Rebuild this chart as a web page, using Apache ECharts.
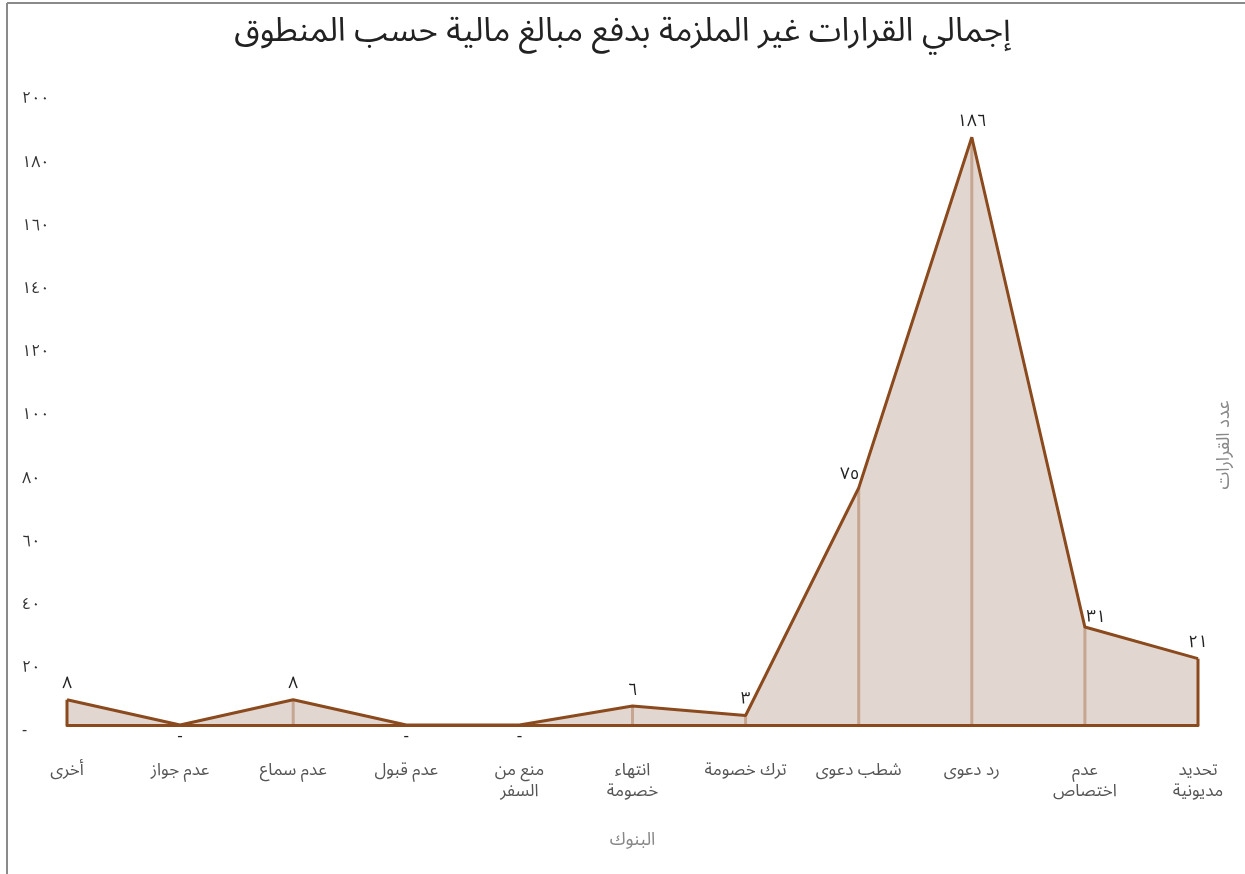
<!DOCTYPE html>
<html><head><meta charset="utf-8">
<script src="https://cdn.jsdelivr.net/npm/echarts@6/dist/echarts.min.js"></script>
<style>html,body{margin:0;padding:0;background:#fff}#c{width:1245px;height:874px}</style>
</head><body><div id="c"></div>
<script>
const categories = ['أخرى','عدم جواز','عدم سماع','عدم قبول','منع من\nالسفر','انتهاء\nخصومة','ترك خصومة','شطب دعوى','رد دعوى','عدم\nاختصاص','تحديد\nمديونية'];
const values = [8,0,8,0,0,6,3,75,186,31,21];
const yTicks = [0,20,40,60,80,100,120,140,160,180,200];
const titleText = 'إجمالي القرارات غير الملزمة بدفع مبالغ مالية حسب المنطوق';
const xName = 'البنوك';
const yName = 'عدد القرارات';

const FONT = "'Noto Sans Arabic','Noto Sans','DejaVu Sans',sans-serif";
const DARK = '#8b4a1e';
const LIGHT = '#c6a591';
function ar(n){ if(n===0) return '-'; return String(n).replace(/\d/g, d => '٠١٢٣٤٥٦٧٨٩'[d]); }

// label placement tweaks (by index) to mimic reference
const labelOffsets = {7:[-9,2], 9:[11,6]};

const chart = echarts.init(document.getElementById('c'));
chart.setOption({
  animation:false,
  textStyle:{fontFamily:FONT},
  title:{text:titleText,left:'center',top:15,textStyle:{fontSize:33,fontWeight:'normal',color:'#222',fontFamily:FONT}},
  grid:{left:67,right:47,top:93,bottom:149},
  xAxis:{type:'category',data:categories,boundaryGap:false,z:5,
    axisLine:{lineStyle:{color:DARK,width:3}},axisTick:{show:false},
    axisLabel:{color:'#555',fontSize:17,margin:37,lineHeight:21,interval:0,fontFamily:FONT},
    name:xName,nameLocation:'middle',nameGap:108,nameTextStyle:{color:'#888',fontSize:18,fontFamily:FONT}},
  yAxis:{type:'value',min:yTicks[0],max:yTicks[yTicks.length-1],interval:yTicks[1]-yTicks[0],
    axisLine:{show:false},axisTick:{show:false},splitLine:{show:false},
    axisLabel:{color:'#333',fontSize:16,align:'left',verticalAlign:'top',margin:45,formatter:v=>ar(v),fontFamily:FONT}},
  graphic:[
    {type:'line',shape:{x1:7,y1:3,x2:7,y2:874},style:{stroke:'#8a8a8a',lineWidth:2}},
    {type:'line',shape:{x1:7,y1:3,x2:1245,y2:3},style:{stroke:'#8a8a8a',lineWidth:2}},
    {type:'text',x:1226,y:445,rotation:Math.PI/2,style:{text:yName,fill:'#888',fontSize:18,fontFamily:FONT,textAlign:'center',textVerticalAlign:'middle'}}
  ],
  series:[
    {type:'line',symbol:'none',z:2,silent:true,data:values,
      lineStyle:{width:0,opacity:0},
      areaStyle:{color:'#e2d7d0',opacity:1}},
    {type:'bar',data:values.map((v,i)=>({value:v,itemStyle:{color:(i===0||i===values.length-1)?DARK:LIGHT}})),
      barWidth:3,clip:false,z:3,silent:true},
    {type:'line',symbol:'circle',symbolSize:1,showSymbol:true,z:4,
      itemStyle:{color:'rgba(0,0,0,0)'},
      data:values.map((v,i)=>({value:v,label:{
        position:v===0?'bottom':'top',
        distance:v===0?4:5,
        offset:labelOffsets[i]||[0,0]}})),
      lineStyle:{color:DARK,width:3},
      label:{show:true,fontSize:17,color:'#222',fontFamily:FONT,formatter:p=>ar(p.value)}
    }
  ]
});
</script></body></html>
